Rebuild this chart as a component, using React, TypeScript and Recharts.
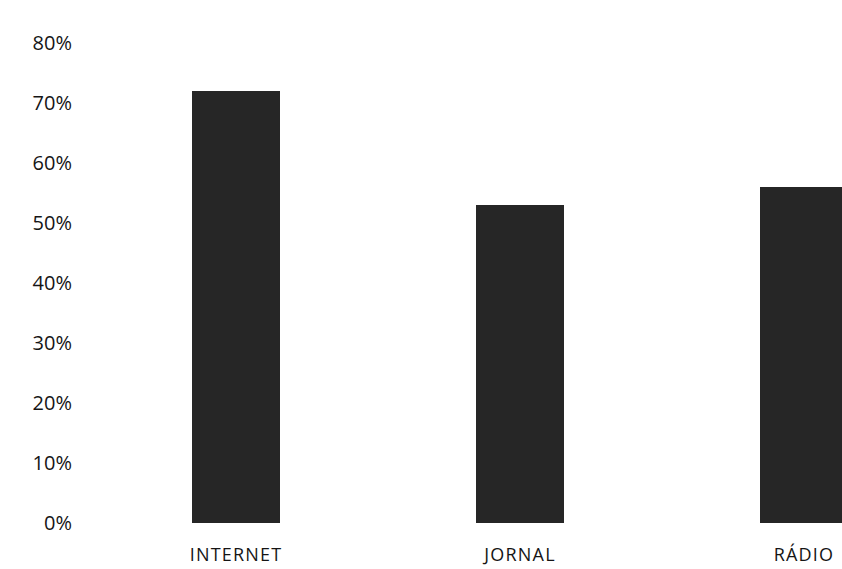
import { Bar, BarChart, XAxis, YAxis } from "recharts";

const categories = ["INTERNET", "JORNAL", "RÁDIO"];
const shares = [0.72, 0.53, 0.56];
const yTicks = [0, 0.1, 0.2, 0.3, 0.4, 0.5, 0.6, 0.7, 0.8];

const rows = categories.map((name, i) => ({ name, value: shares[i] }));

const FONT = "'Open Sans', 'DejaVu Sans', sans-serif";

export default function App() {
  return (
    <div
      style={{
        position: "absolute",
        left: 0,
        top: 0,
        width: 842,
        height: 569,
        overflow: "hidden",
        background: "#ffffff",
      }}
    >
      <BarChart
        width={960}
        height={569}
        data={rows}
        margin={{ top: 43, right: 14, bottom: 0, left: 0 }}
      >
        <XAxis
          dataKey="name"
          height={46}
          axisLine={false}
          tickLine={false}
          tickSize={0}
          tickMargin={25}
          interval={0}
          tick={{ fill: "#151515", fontSize: 18, fontFamily: FONT, letterSpacing: 1.2 }}
        />
        <YAxis
          domain={[0, 0.8]}
          ticks={yTicks}
          width={94}
          axisLine={false}
          tickLine={false}
          tickSize={0}
          tickMargin={22}
          interval={0}
          tickFormatter={(v) => `${Math.round(Number(v) * 100)}%`}
          tick={{ fill: "#151515", fontSize: 20, fontFamily: FONT }}
        />
        <Bar dataKey="value" fill="#262626" barSize={88} isAnimationActive={false} />
      </BarChart>
    </div>
  );
}
